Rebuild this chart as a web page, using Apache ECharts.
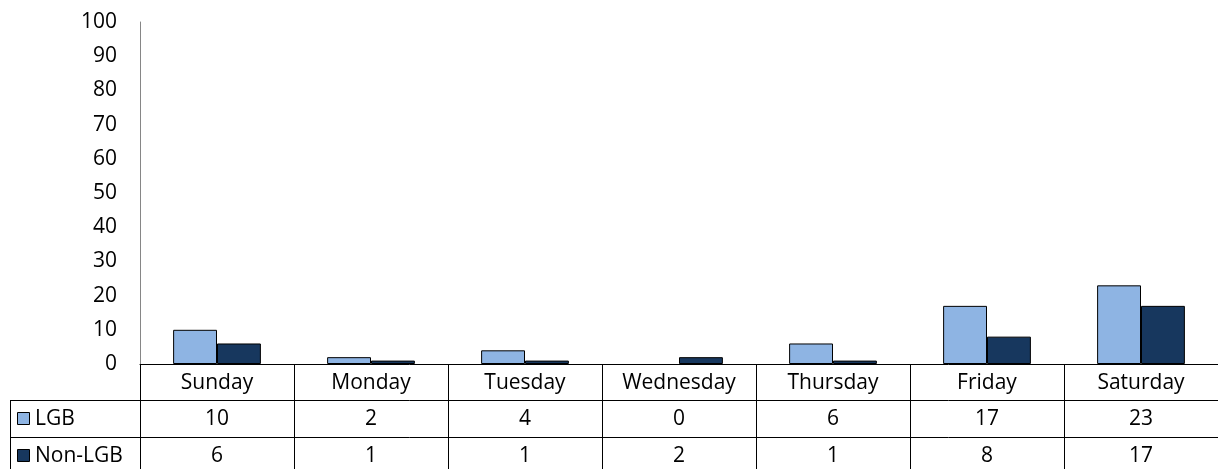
<!DOCTYPE html>
<html>
<head>
<meta charset="UTF-8">
<title>LGB vs Non-LGB by day</title>
<script src="https://cdn.jsdelivr.net/npm/echarts@6/dist/echarts.min.js"></script>
<style>
    html, body { margin: 0; padding: 0; background: #fff; }
    #chart { width: 1218px; height: 469px; }
</style>
</head>
<body>
<div id="chart"></div>
<script>
    // data
    var days = ['Sunday', 'Monday', 'Tuesday', 'Wednesday', 'Thursday', 'Friday', 'Saturday'];
    var lgb = [10, 2, 4, 0, 6, 17, 23];
    var nonLgb = [6, 1, 1, 2, 1, 8, 17];
    var seriesNames = ['LGB', 'Non-LGB'];

    var font = '"Open Sans"';
    var fontSize = 21;
    var lightBlue = '#8EB4E3';
    var darkBlue = '#17375E';

    var chart = echarts.init(document.getElementById('chart'));

    // table rows under the axis are made of extra category axes
    function tableAxis(offset, values) {
        return {
            type: 'category',
            data: days,
            position: 'bottom',
            offset: offset,
            axisLine: { show: true, lineStyle: { color: '#000', width: 1 } },
            axisTick: { show: false },
            axisLabel: {
                margin: 9,
                fontFamily: font, fontSize: fontSize, color: '#000',
                formatter: function (v, i) { return String(values[i]); }
            }
        };
    }

    // zero bars get no outline, like the original
    function barData(values) {
        return values.map(function (v) {
            return v === 0 ? { value: v, itemStyle: { borderWidth: 0 } } : v;
        });
    }

    var option = {
        animation: false,
        grid: { left: 140, right: 0, top: 22, bottom: 105 },
        xAxis: [
            {
                type: 'category',
                data: days,
                axisLine: { lineStyle: { color: '#000', width: 1 } },
                axisTick: { show: true, length: 105, lineStyle: { color: '#000' } },
                axisLabel: { margin: 9, fontFamily: font, fontSize: fontSize, color: '#000' }
            },
            tableAxis(36, lgb),
            tableAxis(73, nonLgb)
        ],
        yAxis: {
            type: 'value',
            min: 0, max: 100, interval: 10,
            axisLine: { show: true, lineStyle: { color: '#868686' } },
            axisTick: { show: false },
            splitLine: { show: false },
            axisLabel: { margin: 23, fontFamily: font, fontSize: fontSize, color: '#000' }
        },
        series: [
            {
                name: seriesNames[0], type: 'bar', data: barData(lgb),
                barGap: '0%', barCategoryGap: '43%',
                itemStyle: { color: lightBlue, borderColor: '#000', borderWidth: 1 }
            },
            {
                name: seriesNames[1], type: 'bar', data: barData(nonLgb),
                itemStyle: { color: darkBlue, borderColor: '#000', borderWidth: 1 }
            }
        ],
        graphic: [
            // left column of the data table
            { type: 'line', shape: { x1: 10, y1: 400.5, x2: 140, y2: 400.5 }, style: { stroke: '#000', lineWidth: 1 } },
            { type: 'line', shape: { x1: 10, y1: 437.5, x2: 140, y2: 437.5 }, style: { stroke: '#000', lineWidth: 1 } },
            { type: 'line', shape: { x1: 10.5, y1: 400, x2: 10.5, y2: 469 }, style: { stroke: '#000', lineWidth: 1 } },
            { type: 'rect', shape: { x: 17.5, y: 412.5, width: 12, height: 12 }, style: { fill: lightBlue, stroke: '#000', lineWidth: 1 } },
            { type: 'text', x: 35, y: 419, style: { text: seriesNames[0], font: fontSize + 'px ' + font, fill: '#000', textVerticalAlign: 'middle' } },
            { type: 'rect', shape: { x: 17.5, y: 449.5, width: 12, height: 12 }, style: { fill: darkBlue, stroke: '#000', lineWidth: 1 } },
            { type: 'text', x: 35, y: 456, style: { text: seriesNames[1], font: fontSize + 'px ' + font, fill: '#000', textVerticalAlign: 'middle' } }
        ]
    };
    chart.setOption(option);
</script>
</body>
</html>
